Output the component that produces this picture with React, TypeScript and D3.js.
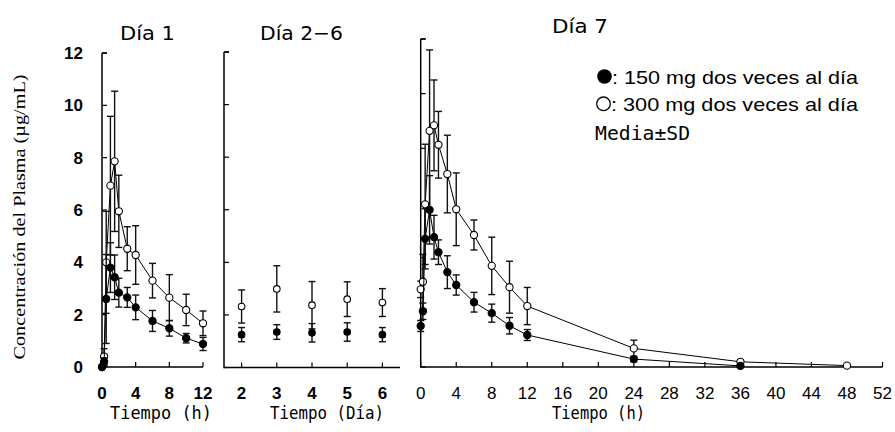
import React from "react";
import * as d3 from "d3";

// Día 1 (h)
const day1Times = [0, 0.25, 0.5, 1, 1.5, 2, 3, 4, 6, 8, 10, 12];
const day1Mean150 = [0, 0.2, 2.6, 3.8, 3.43, 2.84, 2.66, 2.28, 1.76, 1.48, 1.1, 0.88];
const day1Sd150 = [0, 0.15, 1.7, 0.95, 0.85, 0.55, 0.38, 0.47, 0.4, 0.3, 0.18, 0.25];
const day1Mean300 = [0, 0.4, 4.0, 6.93, 7.86, 5.95, 4.52, 4.28, 3.3, 2.65, 2.18, 1.67];
const day1Sd300 = [0, 0.3, 1.95, 2.65, 2.68, 1.38, 0.84, 1.12, 0.66, 0.88, 0.6, 0.47];

// Día 2-6 (día)
const day26Days = [2, 3, 4, 5, 6];
const day26Mean150 = [1.25, 1.35, 1.32, 1.35, 1.25];
const day26Sd150 = [0.27, 0.28, 0.35, 0.35, 0.27];
const day26Mean300 = [2.32, 2.99, 2.37, 2.6, 2.47];
const day26Sd300 = [0.63, 0.88, 0.9, 0.66, 0.53];

// Día 7 (h)
const day7Times = [0, 0.25, 0.5, 1, 1.5, 2, 3, 4, 6, 8, 10, 12, 24, 36, 48];
const day7Mean150 = [1.5, 2.04, 4.69, 5.75, 4.75, 4.2, 3.47, 3.0, 2.37, 1.97, 1.51, 1.17, 0.29, 0.04];
const day7Sd150 = [0.2, 0.3, 1.1, 1.25, 0.8, 0.45, 0.6, 0.37, 0.36, 0.33, 0.3, 0.2, 0.1, 0.03];
const day7Mean300 = [2.84, 3.12, 5.95, 8.64, 8.84, 8.13, 7.06, 5.77, 4.83, 3.7, 2.92, 2.23, 0.68, 0.19, 0.05];
const day7Sd300 = [0.3, 1.0, 2.2, 2.96, 1.66, 1.22, 1.42, 1.33, 0.55, 1.05, 0.95, 0.68, 0.3, 0.05, 0.03];

const yTicks = [0, 2, 4, 6, 8, 10, 12];
const day1XTicks = [0, 4, 8, 12];
const day26XTicks = [2, 3, 4, 5, 6];
const day7XTicks = [0, 4, 8, 12, 16, 20, 24, 28, 32, 36, 40, 44, 48, 52];

const sans = "'Liberation Sans', Arial, sans-serif";
const mono = "'DejaVu Sans Mono', 'Liberation Mono', monospace";

const zip = (xs: number[], ms: number[], sds: number[]) =>
  ms.map((m, i) => ({ x: xs[i], m, sd: sds[i] }));

const panels = [
  {
    key: "d1",
    x: d3.scaleLinear([0, 12], [102, 203]),
    y: d3.scaleLinear([0, 12], [367, 53]),
    xTicks: day1XTicks,
    tickWeight: "bold",
    showYLabels: true,
    lines: true,
    r: 3.6,
    s150: zip(day1Times, day1Mean150, day1Sd150),
    s300: zip(day1Times, day1Mean300, day1Sd300),
    xTitle: "Tiempo (h)",
    xTitleX: 110,
    xTitleLen: 102,
  },
  {
    key: "d26",
    x: d3.scaleLinear([1.5, 6.5], [224, 400]),
    y: d3.scaleLinear([0, 12], [367.5, 52]),
    xTicks: day26XTicks,
    tickWeight: "bold",
    showYLabels: false,
    lines: false,
    r: 3.3,
    s150: zip(day26Days, day26Mean150, day26Sd150),
    s300: zip(day26Days, day26Mean300, day26Sd300),
    xTitle: "Tiempo (Día)",
    xTitleX: 270,
    xTitleLen: 114,
  },
  {
    key: "d7",
    x: d3.scaleLinear([0, 52], [420.7, 882.5]),
    y: d3.scaleLinear([0, 12], [367, 39]),
    xTicks: day7XTicks,
    tickWeight: "normal",
    showYLabels: false,
    lines: true,
    r: 3.6,
    s150: zip(day7Times, day7Mean150, day7Sd150),
    s300: zip(day7Times, day7Mean300, day7Sd300),
    xTitle: "Tiempo (h)",
    xTitleX: 552,
    xTitleLen: 93,
  },
];

type Pt = { x: number; m: number; sd: number };

function Series({ p, data, filled }: { p: any; data: Pt[]; filled: boolean }) {
  const line = d3
    .line<Pt>()
    .x((d) => p.x(d.x))
    .y((d) => p.y(d.m));
  return (
    <g>
      {p.lines && <path d={line(data) || ""} fill="none" stroke="#000" strokeWidth={1} />}
      {data.map((d, i) => {
        const cx = p.x(d.x);
        const top = p.y(d.m + d.sd);
        const bot = p.y(Math.max(0, d.m - d.sd));
        return (
          <g key={i} stroke="#111" strokeWidth={1.4}>
            {d.sd > 0.05 && (
              <>
                <line x1={cx} x2={cx} y1={top} y2={bot} />
                <line x1={cx - 3.5} x2={cx + 3.5} y1={top} y2={top} />
                <line x1={cx - 3.5} x2={cx + 3.5} y1={bot} y2={bot} />
              </>
            )}
          </g>
        );
      })}
      {data.map((d, i) => (
        <circle
          key={"c" + i}
          cx={p.x(d.x)}
          cy={p.y(d.m)}
          r={p.r}
          fill={filled ? "#000" : "#fff"}
          stroke="#000"
          strokeWidth={1.1}
        />
      ))}
    </g>
  );
}

export default function App() {
  return (
    <svg
      width={895}
      height={432}
      style={{ position: "absolute", left: 0, top: 0, background: "#fff" }}
    >
      <rect width={895} height={432} fill="#fff" />
      {panels.map((p) => {
        const [x0, x1] = p.x.range();
        const [yb, yt] = p.y.range();
        return (
          <g key={p.key}>
            {/* axes */}
            <path
              d={`M${x0},${yt}H${x0 + 5}M${x0},${yt}V${yb}H${x1}`}
              fill="none"
              stroke="#000"
              strokeWidth={1.5}
            />
            {yTicks.map((t) => (
              <line key={"yt" + t} x1={x0} x2={x0 + 5} y1={p.y(t)} y2={p.y(t)} stroke="#000" strokeWidth={1.2} />
            ))}
            {p.showYLabels &&
              yTicks.map((t) => (
                <text
                  key={"yl" + t}
                  x={83}
                  y={p.y(t) + 6}
                  textAnchor="end"
                  fontFamily={sans}
                  fontWeight="bold"
                  fontSize={17}
                >
                  {t}
                </text>
              ))}
            {p.xTicks.map((t) => (
              <g key={"xt" + t}>
                <line x1={p.x(t)} x2={p.x(t)} y1={yb} y2={yb - 5} stroke="#000" strokeWidth={1.2} />
                <text
                  x={p.x(t)}
                  y={399}
                  textAnchor="middle"
                  fontFamily={sans}
                  fontWeight={p.tickWeight}
                  fontSize={17}
                >
                  {t}
                </text>
              </g>
            ))}
            <text
              x={p.xTitleX}
              y={419}
              fontFamily={mono}
              fontSize={18}
              textLength={p.xTitleLen}
              lengthAdjust="spacingAndGlyphs"
            >
              {p.xTitle}
            </text>
            <Series p={p} data={p.s300} filled={false} />
            <Series p={p} data={p.s150} filled={true} />
          </g>
        );
      })}

      {/* titles */}
      <text x={120} y={40} fontFamily="'DejaVu Sans', sans-serif" fontSize={20} textLength={55} lengthAdjust="spacingAndGlyphs">
        Día 1
      </text>
      <text x={260} y={40} fontFamily="'DejaVu Sans', sans-serif" fontSize={20} textLength={83} lengthAdjust="spacingAndGlyphs">
        Día 2−6
      </text>
      <text x={552} y={33} fontFamily="'DejaVu Sans', sans-serif" fontSize={20} textLength={56} lengthAdjust="spacingAndGlyphs">
        Día 7
      </text>

      {/* y axis title */}
      <text
        transform="translate(25,217) rotate(-90)"
        textAnchor="middle"
        fontFamily="'Liberation Serif', 'Times New Roman', serif"
        fontSize={17}
        textLength={285}
        lengthAdjust="spacingAndGlyphs"
        fill="#000"
      >
        Concentración del Plasma (µg/mL)
      </text>

      {/* legend */}
      <circle cx={604.5} cy={76.5} r={7.3} fill="#000" />
      <text x={612} y={83.5} fontFamily={sans} fontSize={19} textLength={246} lengthAdjust="spacingAndGlyphs">
        : 150 mg dos veces al día
      </text>
      <circle cx={603.5} cy={103.8} r={6.8} fill="#fff" stroke="#000" strokeWidth={1.3} />
      <text x={611} y={110.5} fontFamily={sans} fontSize={19} textLength={247} lengthAdjust="spacingAndGlyphs">
        : 300 mg dos veces al día
      </text>
      <text x={595} y={140} fontFamily={mono} fontSize={20} textLength={95} lengthAdjust="spacingAndGlyphs">
        Media±SD
      </text>
    </svg>
  );
}
